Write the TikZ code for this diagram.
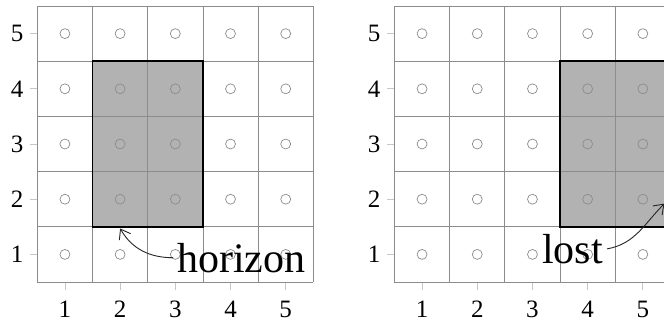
\documentclass[tikz,border=0pt]{standalone}
\usepackage{fontspec}
\setmainfont{Liberation Serif}
\usetikzlibrary{arrows.meta}
\begin{document}
\begin{tikzpicture}[x=55.2pt, y=55.2pt,
    gridline/.style={draw=black!45, line width=0.8pt},
    tickline/.style={draw=black!22, line width=0.8pt},
    dot/.style={draw=black!45, line width=0.7pt},
    region/.style={draw=black, line width=1.6pt},
    axislabel/.style={inner sep=0pt, font=\fontsize{25}{30}\selectfont},
    callout/.style={inner sep=4pt, font=\fontsize{42}{50}\selectfont},
    pointer/.style={draw=black!85, line width=0.9pt, -{Straight Barb[length=9pt, width=13pt]}}]

    % ==========================================
    % Marco
    % ==========================================
    \clip (-0.176,-0.225) rectangle (11.853,5.609);
    \fill[white] (-0.176,-0.225) rectangle (11.853,5.609);

    % Regiones sombreadas
    \fill[black!30] (1.5,1.5) rectangle (3.5,4.5);
    \fill[black!30] (9.97,1.5) rectangle (12.97,4.5);

    % ==========================================
    % Rejillas (izquierda y derecha)
    % ==========================================
    \foreach \s/\p in {0/L, 6.47/R} {
        \begin{scope}[shift={(\s,0)}]
            \foreach \i in {1,...,5} {
                \draw[tickline] (\i,0.5) -- (\i,0.36);
                \draw[tickline] (0.5,\i) -- (0.36,\i);
                \node[axislabel] (x\p\i) at (\i,0) {\i};
                \node[axislabel, anchor=east] (y\p\i) at (0.25,\i) {\i};
                \foreach \j in {1,...,5}
                    \draw[dot] (\i,\j) circle[radius=0.09];
            }
            \draw[gridline, shift={(0.5,0.5)}, step=1] (0,0) grid (5,5);
        \end{scope}
    }

    % Bordes de las regiones
    \draw[region] (1.5,1.5) rectangle (3.5,4.5);
    \draw[region] (9.97,1.5) rectangle (12.97,4.5);

    % ==========================================
    % Etiquetas
    % ==========================================
    \node[callout, anchor=base west] (horizon) at (2.96,0.68) {horizon};
    \coordinate (horizontip) at (2.0,1.47);
    \draw[pointer] (horizon.west) to[out=180, in=-60] (horizontip);

    \node[callout, anchor=base west] (lost) at (9.57,0.84) {lost};
    \coordinate (losttip) at (11.86,1.92);
    \draw[pointer] (lost.east) to[out=10, in=225] (losttip);

\end{tikzpicture}
\end{document}
